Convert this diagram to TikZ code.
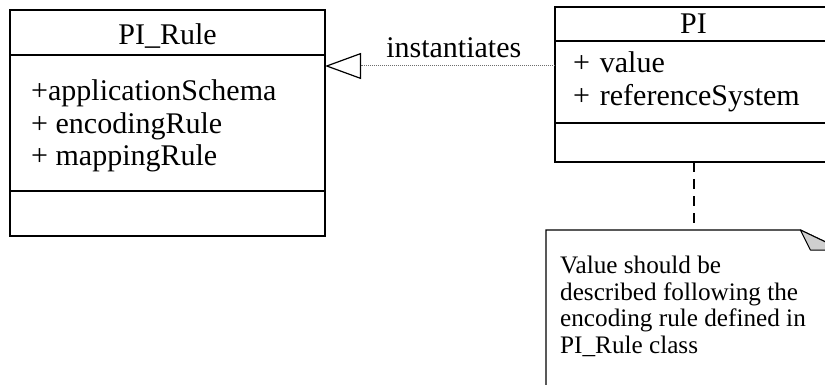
\documentclass[tikz,border=0pt]{standalone}
\usepackage{fontspec}
\setmainfont{Liberation Serif}
\usetikzlibrary{positioning, arrows.meta}
\definecolor{umlgray}{HTML}{6E6E6E}
\definecolor{foldgray}{HTML}{CFCFCF}

\begin{document}
\begin{tikzpicture}[
  x=1pt, y=-1pt,
  clspart/.style={
    rectangle, draw=black, line width=1.2pt, inner sep=0pt, outer sep=0pt,
    font=\fontsize{30}{32.5}\selectfont
  },
  clshead/.style={clspart, align=center},
  clsattr/.style={clspart, align=left},
  attrtext/.style={
    inner sep=0pt, align=left, anchor=north west,
    font=\fontsize{30}{32.5}\selectfont
  },
  notetext/.style={
    inner sep=0pt, align=left, anchor=north west,
    font=\fontsize{25.2}{26.5}\selectfont
  },
  notebody/.style={draw=black, line width=1.2pt},
  fold/.style={draw=black, fill=foldgray, line width=1pt, line join=round},
  notelink/.style={draw=black, line width=2pt, dash pattern=on 10pt off 7pt},
  realize/.style={
    -{Triangle[open, length=36pt, width=26pt, line width=1.2pt, color=black]},
    umlgray, line width=1pt, dash pattern=on 1pt off 1pt
  },
]
\useasboundingbox (0,0) rectangle (825,385);
\clip (0,0) rectangle (825,385);

% PI_Rule class
\node[clshead, minimum width=315, minimum height=45, text height=24pt, text depth=0pt, anchor=north west] (rulehead) at (10,10) {PI\_Rule};
\node[clspart, minimum width=315, minimum height=136, below=0pt of rulehead] (ruleattr) {};
\node[clspart, minimum width=315, minimum height=45, below=0pt of ruleattr] (ruleops) {};
\node[attrtext] (ruletxt) at ([xshift=21pt,yshift=-24.5pt]ruleattr.north west)
  {+applicationSchema\\+ encodingRule\\+ mappingRule};

% PI class
\node[clshead, minimum width=277, minimum height=34, anchor=north west] (pihead) at (555,7) {PI};
\node[clsattr, minimum width=277, minimum height=82, inner xsep=18pt, text width=241pt, below=0pt of pihead] (piattr)
  {+ value\\+ referenceSystem};
\node[clspart, minimum width=277, minimum height=39, below=0pt of piattr] (piops) {};

% Note
\node[minimum width=296, minimum height=170, inner sep=0pt, anchor=north west] (notebox) at (546,230) {};
\draw[notebody] (notebox.south west) -- (notebox.north west) -- ([xshift=-42pt]notebox.north east)
  -- ([yshift=-20pt]notebox.north east) -- (notebox.south east);
\filldraw[fold] ([xshift=-42pt]notebox.north east) -- ([xshift=-32pt,yshift=-20pt]notebox.north east)
  -- ([yshift=-20pt]notebox.north east) -- cycle;
\node[notetext] (notetxt) at ([xshift=14pt,yshift=-26pt]notebox.north west)
  {Value should be\\described following the\\encoding rule defined in\\PI\_Rule class};

% Connectors
\coordinate (instsrc) at ([yshift=16pt]piattr.west);
\draw[realize] (instsrc) -- (instsrc -| ruleattr.east)
  node[pos=0.44, above, inner sep=8pt, text=black, font=\fontsize{30}{35}\selectfont] (instlabel) {instantiates};
\draw[notelink] (piops.south) -- (piops.south |- notebox.north);
\end{tikzpicture}
\end{document}
